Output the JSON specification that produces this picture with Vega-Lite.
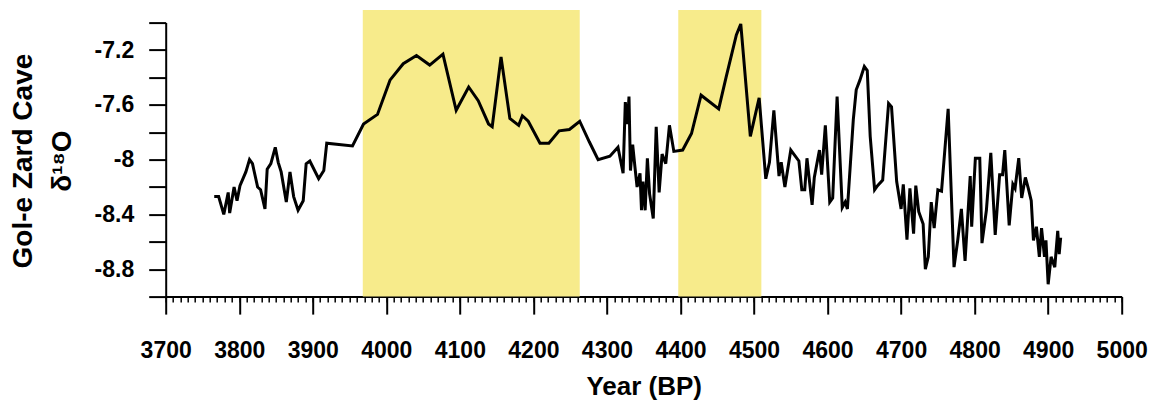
{
  "$schema": "https://vega.github.io/schema/vega-lite/v6.json",
  "width": 956,
  "height": 274,
  "autosize": {"type": "none"},
  "padding": {"left": 165.7, "top": 22.6, "right": 28.3, "bottom": 106.4},
  "background": "white",
  "config": {
    "view": {"stroke": null},
    "axis": {"grid": false, "domainColor": "black", "tickColor": "black", "labelColor": "black", "titleColor": "black", "labelFont": "Liberation Sans", "titleFont": "Liberation Sans", "labelFontWeight": "bold", "titleFontWeight": "bold"},
    "axisLeft": {"values": [-9, -8.8, -8.6, -8.4, -8.2, -8, -7.8, -7.6, -7.4, -7.2, -7],
      "tickSize": 17, "tickWidth": 2, "domainWidth": 2, "labelFontSize": 23, "labelPadding": 15,
      "labelExpr": "(abs(datum.value + 7.2) < 0.01 || abs(datum.value + 7.6) < 0.01 || abs(datum.value + 8) < 0.01 || abs(datum.value + 8.4) < 0.01 || abs(datum.value + 8.8) < 0.01) ? '' + datum.value : ''",
      "titleFontSize": 28, "titleAngle": -90, "titleX": -142.5, "titleY": 138,
      "titleBaseline": "middle", "titleAlign": "center", "titleLineHeight": 39}
  },
  "datasets": {
    "bands": [{"start": 3968, "end": 4263}, {"start": 4397, "end": 4510}],
    "series": [
      {"year": 3766, "d18O": -8.27}, {"year": 3772, "d18O": -8.27}, {"year": 3779, "d18O": -8.40}, {"year": 3785, "d18O": -8.24},
      {"year": 3787, "d18O": -8.39}, {"year": 3793, "d18O": -8.20}, {"year": 3797, "d18O": -8.30}, {"year": 3801, "d18O": -8.19},
      {"year": 3809, "d18O": -8.09}, {"year": 3814, "d18O": -8.00}, {"year": 3818, "d18O": -8.03}, {"year": 3825, "d18O": -8.20},
      {"year": 3829, "d18O": -8.22}, {"year": 3835, "d18O": -8.36}, {"year": 3838, "d18O": -8.07}, {"year": 3843, "d18O": -8.03},
      {"year": 3849, "d18O": -7.91}, {"year": 3853, "d18O": -8.02}, {"year": 3857, "d18O": -8.09}, {"year": 3864, "d18O": -8.31},
      {"year": 3869, "d18O": -8.09}, {"year": 3874, "d18O": -8.27}, {"year": 3880, "d18O": -8.37}, {"year": 3887, "d18O": -8.30},
      {"year": 3891, "d18O": -8.03}, {"year": 3896, "d18O": -8.01}, {"year": 3908, "d18O": -8.14}, {"year": 3915, "d18O": -8.08},
      {"year": 3919, "d18O": -7.88}, {"year": 3954, "d18O": -7.90}, {"year": 3969, "d18O": -7.74}, {"year": 3988, "d18O": -7.67},
      {"year": 4005, "d18O": -7.42}, {"year": 4023, "d18O": -7.30}, {"year": 4041, "d18O": -7.24}, {"year": 4059, "d18O": -7.31},
      {"year": 4077, "d18O": -7.23}, {"year": 4095, "d18O": -7.64}, {"year": 4112, "d18O": -7.47}, {"year": 4125, "d18O": -7.57},
      {"year": 4139, "d18O": -7.74}, {"year": 4144, "d18O": -7.76}, {"year": 4156, "d18O": -7.25}, {"year": 4168, "d18O": -7.70},
      {"year": 4180, "d18O": -7.75}, {"year": 4185, "d18O": -7.68}, {"year": 4193, "d18O": -7.72}, {"year": 4209, "d18O": -7.88},
      {"year": 4221, "d18O": -7.88}, {"year": 4235, "d18O": -7.79}, {"year": 4249, "d18O": -7.78}, {"year": 4263, "d18O": -7.72},
      {"year": 4276, "d18O": -7.87}, {"year": 4288, "d18O": -8.00}, {"year": 4304, "d18O": -7.975}, {"year": 4315, "d18O": -7.91},
      {"year": 4322, "d18O": -8.10}, {"year": 4325, "d18O": -7.58}, {"year": 4328, "d18O": -7.74}, {"year": 4330, "d18O": -7.54},
      {"year": 4332, "d18O": -8.08}, {"year": 4335, "d18O": -7.89}, {"year": 4338, "d18O": -8.05}, {"year": 4341, "d18O": -8.20},
      {"year": 4345, "d18O": -8.10}, {"year": 4347, "d18O": -8.37}, {"year": 4349, "d18O": -8.16}, {"year": 4352, "d18O": -8.37},
      {"year": 4355, "d18O": -7.99}, {"year": 4358, "d18O": -8.25}, {"year": 4363, "d18O": -8.43}, {"year": 4367, "d18O": -7.76},
      {"year": 4371, "d18O": -8.24}, {"year": 4375, "d18O": -7.96}, {"year": 4380, "d18O": -8.03}, {"year": 4385, "d18O": -7.75},
      {"year": 4391, "d18O": -7.94}, {"year": 4403, "d18O": -7.93}, {"year": 4415, "d18O": -7.81}, {"year": 4428, "d18O": -7.53},
      {"year": 4452, "d18O": -7.63}, {"year": 4462, "d18O": -7.40}, {"year": 4476, "d18O": -7.09}, {"year": 4482, "d18O": -7.01},
      {"year": 4495, "d18O": -7.83}, {"year": 4507, "d18O": -7.55}, {"year": 4516, "d18O": -8.14}, {"year": 4521, "d18O": -8.02},
      {"year": 4527, "d18O": -7.64}, {"year": 4534, "d18O": -8.12}, {"year": 4537, "d18O": -8.02}, {"year": 4542, "d18O": -8.20},
      {"year": 4550, "d18O": -7.93}, {"year": 4561, "d18O": -8.01}, {"year": 4565, "d18O": -8.22}, {"year": 4569, "d18O": -8.22},
      {"year": 4572, "d18O": -7.99}, {"year": 4579, "d18O": -8.33}, {"year": 4582, "d18O": -8.13}, {"year": 4589, "d18O": -7.93},
      {"year": 4592, "d18O": -8.11}, {"year": 4597, "d18O": -7.75}, {"year": 4603, "d18O": -8.31}, {"year": 4607, "d18O": -8.28},
      {"year": 4613, "d18O": -7.54}, {"year": 4620, "d18O": -8.35}, {"year": 4624, "d18O": -8.31}, {"year": 4627, "d18O": -8.36},
      {"year": 4635, "d18O": -7.71}, {"year": 4639, "d18O": -7.49}, {"year": 4644, "d18O": -7.42}, {"year": 4650, "d18O": -7.32},
      {"year": 4654, "d18O": -7.35}, {"year": 4658, "d18O": -7.83}, {"year": 4664, "d18O": -8.22}, {"year": 4668, "d18O": -8.19},
      {"year": 4675, "d18O": -8.15}, {"year": 4683, "d18O": -7.59}, {"year": 4687, "d18O": -7.615}, {"year": 4694, "d18O": -8.16},
      {"year": 4700, "d18O": -8.36}, {"year": 4703, "d18O": -8.18}, {"year": 4708, "d18O": -8.585}, {"year": 4712, "d18O": -8.21},
      {"year": 4717, "d18O": -8.54}, {"year": 4720, "d18O": -8.19}, {"year": 4724, "d18O": -8.38}, {"year": 4730, "d18O": -8.47},
      {"year": 4733, "d18O": -8.80}, {"year": 4737, "d18O": -8.71}, {"year": 4741, "d18O": -8.31}, {"year": 4745, "d18O": -8.50},
      {"year": 4750, "d18O": -8.22}, {"year": 4755, "d18O": -8.23}, {"year": 4764, "d18O": -7.63}, {"year": 4772, "d18O": -8.785},
      {"year": 4777, "d18O": -8.59}, {"year": 4782, "d18O": -8.36}, {"year": 4787, "d18O": -8.74}, {"year": 4794, "d18O": -8.12},
      {"year": 4796, "d18O": -8.49}, {"year": 4801, "d18O": -7.99}, {"year": 4807, "d18O": -7.99}, {"year": 4810, "d18O": -8.61},
      {"year": 4816, "d18O": -8.37}, {"year": 4822, "d18O": -7.95}, {"year": 4828, "d18O": -8.55}, {"year": 4834, "d18O": -8.11},
      {"year": 4838, "d18O": -8.11}, {"year": 4841, "d18O": -7.93}, {"year": 4847, "d18O": -8.48}, {"year": 4852, "d18O": -8.18},
      {"year": 4855, "d18O": -8.21}, {"year": 4860, "d18O": -7.99}, {"year": 4864, "d18O": -8.28}, {"year": 4869, "d18O": -8.13},
      {"year": 4873, "d18O": -8.21}, {"year": 4877, "d18O": -8.30}, {"year": 4880, "d18O": -8.59}, {"year": 4884, "d18O": -8.49},
      {"year": 4888, "d18O": -8.71}, {"year": 4891, "d18O": -8.50}, {"year": 4895, "d18O": -8.71}, {"year": 4897, "d18O": -8.59},
      {"year": 4900, "d18O": -8.91}, {"year": 4904, "d18O": -8.71}, {"year": 4909, "d18O": -8.785}, {"year": 4913, "d18O": -8.52},
      {"year": 4915, "d18O": -8.69}, {"year": 4917, "d18O": -8.57}
    ]
  },
  "layer": [
    {
      "data": {"name": "bands"},
      "mark": {"type": "rect", "color": "#F7EB8B"},
      "encoding": {
        "x": {"field": "start", "type": "quantitative",
          "scale": {"domain": [3700, 5000], "nice": false, "zero": false},
          "axis": {"orient": "bottom", "values": [3700, 3800, 3900, 4000, 4100, 4200, 4300, 4400, 4500, 4600, 4700, 4800, 4900, 5000],
            "tickSize": 17.5, "tickWidth": 2, "domainWidth": 2, "labelFontSize": 23, "labelPadding": 25, "labelFlush": false, "labelOverlap": false,
            "format": "d", "title": "Year (BP)", "titleFontSize": 26, "titleX": 478, "titleY": 98, "titleBaseline": "alphabetic", "titleAlign": "center"}},
        "x2": {"field": "end"},
        "y": {"datum": -6.908, "type": "quantitative", "scale": {"domain": [-9, -7], "nice": false, "zero": false},
          "title": ["Gol-e Zard Cave", "δ¹⁸O"]},
        "y2": {"datum": -9}
      }
    },
    {
      "data": {"name": "series"},
      "mark": {"type": "line", "color": "black", "strokeWidth": 3},
      "encoding": {
        "x": {"field": "year", "type": "quantitative",
          "axis": {"orient": "bottom", "domain": false, "labels": false, "title": null, "tickSize": 5.5, "tickWidth": 1.5,
            "values": [3700,3710,3720,3730,3740,3750,3760,3770,3780,3790,3800,3810,3820,3830,3840,3850,3860,3870,3880,3890,3900,3910,3920,3930,3940,3950,3960,3970,3980,3990,4000,4010,4020,4030,4040,4050,4060,4070,4080,4090,4100,4110,4120,4130,4140,4150,4160,4170,4180,4190,4200,4210,4220,4230,4240,4250,4260,4270,4280,4290,4300,4310,4320,4330,4340,4350,4360,4370,4380,4390,4400,4410,4420,4430,4440,4450,4460,4470,4480,4490,4500,4510,4520,4530,4540,4550,4560,4570,4580,4590,4600,4610,4620,4630,4640,4650,4660,4670,4680,4690,4700,4710,4720,4730,4740,4750,4760,4770,4780,4790,4800,4810,4820,4830,4840,4850,4860,4870,4880,4890,4900,4910,4920,4930,4940,4950,4960,4970,4980,4990,5000]}},
        "y": {"field": "d18O", "type": "quantitative", "title": ["Gol-e Zard Cave", "δ¹⁸O"]}
      }
    }
  ],
  "resolve": {"axis": {"x": "independent"}}
}
